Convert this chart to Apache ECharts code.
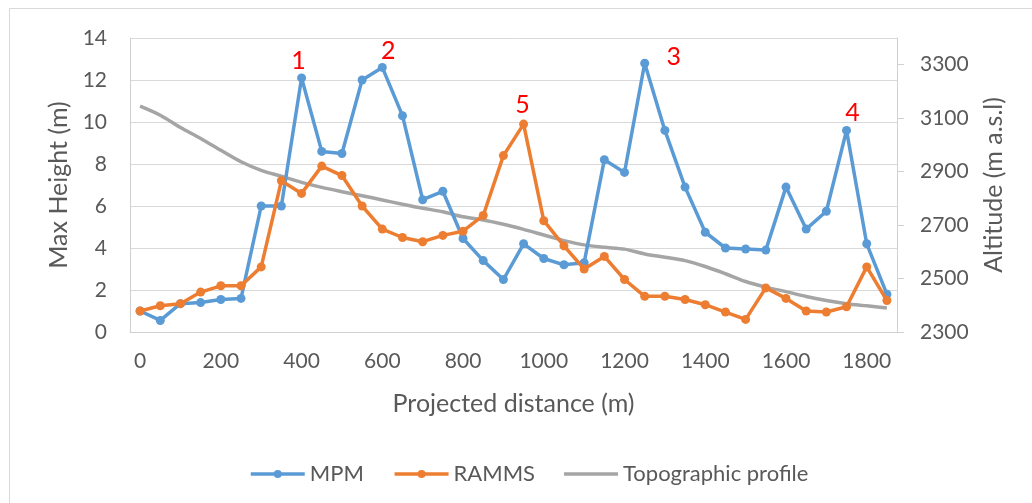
<!DOCTYPE html>
<html>
<head>
<meta charset="utf-8">
<style>
  html, body { margin: 0; padding: 0; background: #ffffff; }
  #chart { width: 1032px; height: 503px; }
</style>
<script src="https://cdn.jsdelivr.net/npm/echarts@6/dist/echarts.min.js"></script>
</head>
<body>
<div id="chart"></div>
<script>
// Projected distance along the path (m)
const distances = [0, 50, 100, 150, 200, 250, 300, 350, 400, 450, 500, 550, 600, 650, 700, 750,
  800, 850, 900, 950, 1000, 1050, 1100, 1150, 1200, 1250, 1300, 1350, 1400, 1450, 1500, 1550,
  1600, 1650, 1700, 1750, 1800, 1850];

// Maximum flow height (m) from each model
const mpmHeight = [1.0, 0.55, 1.35, 1.4, 1.55, 1.6, 6.0, 6.0, 12.1, 8.6, 8.5, 12.0, 12.6, 10.3,
  6.3, 6.7, 4.45, 3.4, 2.5, 4.2, 3.5, 3.2, 3.3, 8.2, 7.6, 12.8, 9.6, 6.9, 4.75, 4.0, 3.95, 3.9,
  6.9, 4.9, 5.75, 9.6, 4.2, 1.8];
const rammsHeight = [1.0, 1.25, 1.35, 1.9, 2.2, 2.2, 3.1, 7.2, 6.6, 7.9, 7.45, 6.0, 4.9, 4.5,
  4.3, 4.6, 4.8, 5.55, 8.4, 9.9, 5.3, 4.1, 3.0, 3.6, 2.5, 1.7, 1.7, 1.55, 1.3, 0.95, 0.6, 2.1,
  1.6, 1.0, 0.95, 1.2, 3.1, 1.5];

// Terrain altitude (m a.s.l.)
const altitude = [3145, 3111, 3065, 3024, 2980, 2937, 2905, 2883, 2860, 2841, 2825, 2810, 2794,
  2778, 2763, 2750, 2731, 2719, 2703, 2684, 2663, 2642, 2626, 2617, 2610, 2592, 2580, 2567, 2545,
  2518, 2489, 2468, 2451, 2433, 2418, 2406, 2398, 2390];

// Numbered peaks: which series, which point, what text
const peakNotes = [
  { series: 'MPM', index: 8, text: '1' },
  { series: 'MPM', index: 12, text: '2' },
  { series: 'MPM', index: 25, text: '3' },
  { series: 'MPM', index: 35, text: '4' },
  { series: 'RAMMS', index: 19, text: '5' }
];

const noteOffsets = { '1': [-3, -17], '2': [6, -16], '3': [29, -6], '4': [6, -17], '5': [-1, -19] };

function withNotes(name, values) {
  return values.map(function (v, i) {
    const note = peakNotes.find(function (n) { return n.series === name && n.index === i; });
    if (!note) return v;
    return {
      value: v,
      label: {
        show: true,
        position: 'inside',
        offset: noteOffsets[note.text],
        formatter: note.text,
        color: '#FF0000',
        fontSize: 25,
        fontFamily: 'Lato'
      }
    };
  });
}

const FONT = 'Lato';
const TEXT = '#595959';

const chart = echarts.init(document.getElementById('chart'), null, { renderer: 'canvas' });
chart.setOption({
  animation: false,
  backgroundColor: '#ffffff',
  textStyle: { fontFamily: FONT },
  graphic: [{
    type: 'rect',
    shape: { x: 9.5, y: 8.5, width: 1040, height: 520 },
    style: { fill: 'none', stroke: '#D9D9D9', lineWidth: 1 },
    silent: true,
    z: -10
  }],
  grid: { left: 130, right: 135, top: 38, bottom: 171, containLabel: false },
  legend: {
    left: 244,
    top: 458,
    itemWidth: 54,
    itemHeight: 10,
    itemGap: 29,
    lineStyle: { width: 3.5 },
    textStyle: { fontSize: 22, color: TEXT, fontFamily: FONT },
    data: [
      { name: 'MPM' },
      { name: 'RAMMS' },
      { name: 'Topographic profile', icon: 'path://M0,0 L54,0 L54,3.5 L0,3.5 Z' }
    ]
  },
  xAxis: {
    type: 'category',
    data: distances,
    boundaryGap: true,
    name: 'Projected distance (m)',
    nameLocation: 'middle',
    nameGap: 59,
    nameTextStyle: { fontSize: 25, color: TEXT, fontFamily: FONT },
    axisLine: { show: true, lineStyle: { color: '#D0D0D0', width: 1 } },
    axisTick: { show: false },
    axisLabel: { interval: 3, fontSize: 21, color: TEXT, fontFamily: FONT, margin: 19 },
    splitLine: { show: false }
  },
  yAxis: [{
    type: 'value',
    min: 0,
    max: 14,
    interval: 2,
    name: 'Max Height (m)',
    nameLocation: 'middle',
    nameGap: 55,
    nameRotate: 90,
    nameTextStyle: { fontSize: 25, color: TEXT, fontFamily: FONT },
    axisLine: { show: true, lineStyle: { color: '#D0D0D0', width: 1 } },
    axisTick: { show: false },
    axisLabel: { fontSize: 21, color: TEXT, fontFamily: FONT, margin: 23 },
    splitLine: { show: true, lineStyle: { color: '#D9D9D9', width: 1 } }
  }, {
    type: 'value',
    position: 'right',
    min: 2300,
    max: 3400,
    interval: 200,
    name: 'Altitude (m a.s.l)',
    nameLocation: 'middle',
    nameGap: 84,
    nameRotate: 90,
    nameTextStyle: { fontSize: 25, color: TEXT, fontFamily: FONT },
    axisLine: { show: true, lineStyle: { color: '#D0D0D0', width: 1 } },
    axisTick: { show: true, inside: false, length: 7, lineStyle: { color: '#D0D0D0' } },
    axisLabel: {
      fontSize: 21, color: TEXT, fontFamily: FONT, margin: 23, showMaxLabel: false,
      formatter: function (v) { return String(v); }
    },
    splitLine: { show: false }
  }],
  series: [{
    name: 'Topographic profile',
    type: 'line',
    yAxisIndex: 1,
    data: altitude,
    smooth: 0.3,
    showSymbol: false,
    symbol: 'none',
    lineStyle: { color: '#A5A5A5', width: 3.5 },
    itemStyle: { color: '#A5A5A5' },
    z: 1
  }, {
    name: 'MPM',
    type: 'line',
    yAxisIndex: 0,
    data: withNotes('MPM', mpmHeight),
    symbol: 'circle',
    symbolSize: 9,
    lineStyle: { color: '#5B9BD5', width: 3.5 },
    itemStyle: { color: '#5B9BD5' },
    z: 2
  }, {
    name: 'RAMMS',
    type: 'line',
    yAxisIndex: 0,
    data: withNotes('RAMMS', rammsHeight),
    symbol: 'circle',
    symbolSize: 9,
    lineStyle: { color: '#ED7D31', width: 3.5 },
    itemStyle: { color: '#ED7D31' },
    z: 3
  }]
});
</script>
</body>
</html>
